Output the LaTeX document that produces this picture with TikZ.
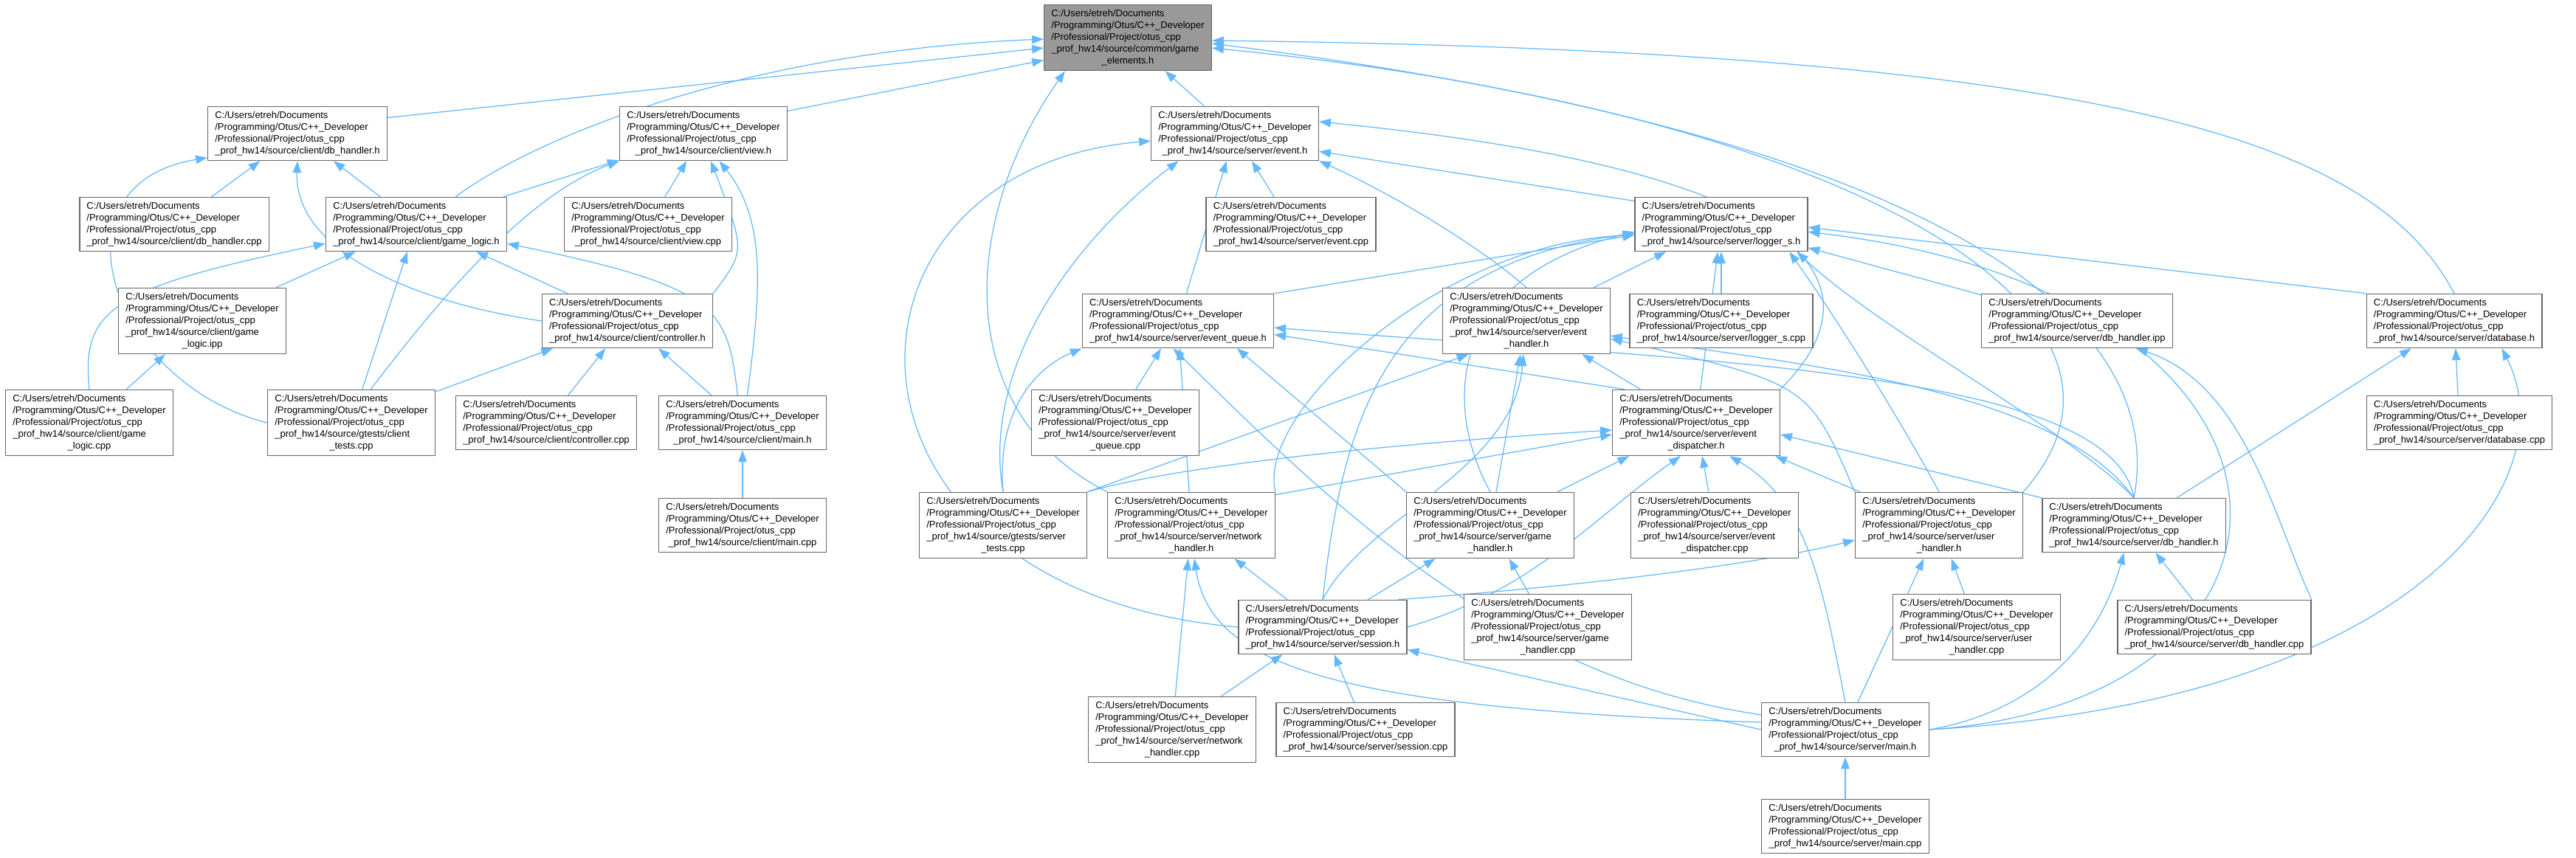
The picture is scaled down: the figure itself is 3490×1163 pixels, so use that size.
\documentclass[tikz,border=0pt]{standalone}
\usepackage{fontspec}
\setmainfont{Liberation Sans}
\usepackage{xcolor}
\usepackage{tikz}
\usetikzlibrary{arrows.meta, positioning}
\pgfdeclarelayer{edges}
\pgfsetlayers{edges,main}

\definecolor{edgeblue}{HTML}{63B8FF}
\definecolor{boxline}{HTML}{666666}
\definecolor{rootfill}{HTML}{999999}

% path label of one file: common prefix, optional middle line, centred last line
\newcommand{\fpath}[2]{\begin{tabular}{@{}l@{}}C:/Users/etreh/Documents\\/Programming/Otus/C++\_Developer\\/Professional/Project/otus\_cpp\\#1\multicolumn{1}{@{}c@{}}{#2}\end{tabular}}

\begin{document}
\begin{tikzpicture}[
    x=0.02cm, y=-0.02cm,
    file/.style={rectangle, draw=boxline, line width=0.8pt, fill=white, inner xsep=5.5pt, inner ysep=2.6pt, font=\fontsize{7.4}{9.1}\selectfont},
    dep/.style={-{Triangle[length=9pt,width=6.5pt]}, draw=edgeblue, line width=0.7pt}
]
\useasboundingbox (0,0) rectangle (3490,1163);

% Root header
\node[file, fill=rootfill] (root) at (1528,51) {\fpath{\_prof\_hw14/source/common/game\\}{\_elements.h}};

% Row 1
\node[file] (cdbh) at (403,181) {\fpath{}{\_prof\_hw14/source/client/db\_handler.h}};
\node[file] (cview) at (953,181) {\fpath{}{\_prof\_hw14/source/client/view.h}};
\node[file] (sevent) at (1673,181) {\fpath{}{\_prof\_hw14/source/server/event.h}};

% Row 2
\node[file] (cdbcpp) at (236,304) {\fpath{}{\_prof\_hw14/source/client/db\_handler.cpp}};
\node[file] (cgl) at (564,304) {\fpath{}{\_prof\_hw14/source/client/game\_logic.h}};
\node[file] (cviewcpp) at (878,304) {\fpath{}{\_prof\_hw14/source/client/view.cpp}};
\node[file] (seventcpp) at (1749,304) {\fpath{}{\_prof\_hw14/source/server/event.cpp}};
\node[file] (slog) at (2332,304) {\fpath{}{\_prof\_hw14/source/server/logger\_s.h}};

% Row 3
\node[file] (cglipp) at (274,435) {\fpath{\_prof\_hw14/source/client/game\\}{\_logic.ipp}};
\node[file] (cctrl) at (850,435) {\fpath{}{\_prof\_hw14/source/client/controller.h}};
\node[file] (seq) at (1596,435) {\fpath{}{\_prof\_hw14/source/server/event\_queue.h}};
\node[file] (seh) at (2068,435) {\fpath{\_prof\_hw14/source/server/event\\}{\_handler.h}};
\node[file] (slogcpp) at (2332,435) {\fpath{}{\_prof\_hw14/source/server/logger\_s.cpp}};
\node[file] (sdbipp) at (2814,435) {\fpath{}{\_prof\_hw14/source/server/db\_handler.ipp}};
\node[file] (sdb) at (3325,435) {\fpath{}{\_prof\_hw14/source/server/database.h}};

% Row 4
\node[file] (cglcpp) at (121,573) {\fpath{\_prof\_hw14/source/client/game\\}{\_logic.cpp}};
\node[file] (ctests) at (476,573) {\fpath{\_prof\_hw14/source/gtests/client\\}{\_tests.cpp}};
\node[file] (cctrlcpp) at (740,573) {\fpath{}{\_prof\_hw14/source/client/controller.cpp}};
\node[file] (cmainh) at (1006,573) {\fpath{}{\_prof\_hw14/source/client/main.h}};
\node[file] (seqcpp) at (1511,573) {\fpath{\_prof\_hw14/source/server/event\\}{\_queue.cpp}};
\node[file] (sdisp) at (2298,573) {\fpath{\_prof\_hw14/source/server/event\\}{\_dispatcher.h}};
\node[file] (sdbcpp) at (3332,573) {\fpath{}{\_prof\_hw14/source/server/database.cpp}};

% Row 5
\node[file] (cmaincpp) at (1006,712) {\fpath{}{\_prof\_hw14/source/client/main.cpp}};
\node[file] (stests) at (1359,712) {\fpath{\_prof\_hw14/source/gtests/server\\}{\_tests.cpp}};
\node[file] (snet) at (1614,712) {\fpath{\_prof\_hw14/source/server/network\\}{\_handler.h}};
\node[file] (sgame) at (2019,712) {\fpath{\_prof\_hw14/source/server/game\\}{\_handler.h}};
\node[file] (sdispcpp) at (2323,712) {\fpath{\_prof\_hw14/source/server/event\\}{\_dispatcher.cpp}};
\node[file] (suser) at (2627,712) {\fpath{\_prof\_hw14/source/server/user\\}{\_handler.h}};
\node[file] (sdbh) at (2891,712) {\fpath{}{\_prof\_hw14/source/server/db\_handler.h}};

% Row 6
\node[file] (ssess) at (1792,850) {\fpath{}{\_prof\_hw14/source/server/session.h}};
\node[file] (sgamecpp) at (2097,850) {\fpath{\_prof\_hw14/source/server/game\\}{\_handler.cpp}};
\node[file] (susercpp) at (2678,850) {\fpath{\_prof\_hw14/source/server/user\\}{\_handler.cpp}};
\node[file] (sdbhcpp) at (3000,850) {\fpath{}{\_prof\_hw14/source/server/db\_handler.cpp}};

% Row 7
\node[file] (snetcpp) at (1588,989) {\fpath{\_prof\_hw14/source/server/network\\}{\_handler.cpp}};
\node[file] (ssesscpp) at (1850,989) {\fpath{}{\_prof\_hw14/source/server/session.cpp}};
\node[file] (smainh) at (2500,989) {\fpath{}{\_prof\_hw14/source/server/main.h}};

% Row 8
\node[file] (smaincpp) at (2500,1120) {\fpath{}{\_prof\_hw14/source/server/main.cpp}};

\begin{pgfonlayer}{edges}
\fill[white] (0,0) rectangle (3490,1163);

% client includes
\draw[dep] (cdbh.10) -- (root.187);
\draw[dep] (cview.15) -- (root.195);
\draw[dep] (cgl.35) .. controls (720,190) and (1000,70) .. (root.181);
\draw[dep] (cdbcpp) -- (cdbh);
\draw[dep] (cgl) -- (cdbh);
\draw[dep] (ctests.west) .. controls (150,520) and (60,250) .. (cdbh.195);
\draw[dep] (cctrl.west) .. controls (560,410) and (398,340) .. (cdbh.south);
\draw[dep] (cgl) -- (cview);
\draw[dep] (cviewcpp) -- (cview);
\draw[dep] (ctests.60) .. controls (570,440) and (700,270) .. (cview.south west);
\draw[dep] (cctrl.north east) .. controls (1010,340) .. (cview.-75);
\draw[dep] (cmainh.80) .. controls (1030,400) and (1040,300) .. (cview.-60);
\draw[dep] (cglipp) -- (cgl);
\draw[dep] (cglcpp.north) .. controls (110,420) and (150,390) .. (cgl.192);
\draw[dep] (ctests) -- (cgl);
\draw[dep] (cctrl) -- (cgl);
\draw[dep] (cmainh.100) .. controls (985,420) and (980,390) .. (cgl.-12);
\draw[dep] (cglcpp) -- (cglipp);
\draw[dep] (ctests) -- (cctrl);
\draw[dep] (cctrlcpp) -- (cctrl);
\draw[dep] (cmainh) -- (cctrl);
\draw[dep] (cmaincpp) -- (cmainh);

% server includes of game_elements.h
\draw[dep] (sevent) -- (root);
\draw[dep] (snet.north west) .. controls (1290,560) and (1300,300) .. (root.-152);
\draw[dep] (sdb.north) .. controls (3220,200) and (2900,70) .. (root.-2);
\draw[dep] (sdbh.north) .. controls (2940,420) and (2600,180) .. (root.-4);
\draw[dep] (suser.north east) .. controls (2960,420) and (2500,150) .. (root.-7);

% event.h
\draw[dep] (seventcpp) -- (sevent);
\draw[dep] (slog.165) -- (sevent.-12);
\draw[dep] (seq) -- (sevent);
\draw[dep] (seh.north) .. controls (2000,330) and (1880,260) .. (sevent.-18);
\draw[dep] (sdisp.north east) .. controls (2560,380) and (2450,230) .. (sevent.8);
\draw[dep] (ssess.west) .. controls (1100,800) and (1100,230) .. (sevent.185);
\draw[dep] (stests.north) .. controls (1330,500) and (1450,330) .. (sevent.-154);

% logger_s.h
\draw[dep] (slogcpp) -- (slog);
\draw[dep] (seq.north east) -- (slog.187);
\draw[dep] (seh) -- (slog);
\draw[dep] (sdisp) -- (slog);
\draw[dep] (snet.north east) .. controls (1700,560) and (1950,330) .. (slog.187);
\draw[dep] (ssess.north) .. controls (1820,560) and (1880,360) .. (slog.186);
\draw[dep] (sgame.north) .. controls (1960,560) and (1950,380) .. (slog.185);
\draw[dep] (suser.north) .. controls (2570,560) and (2480,420) .. (slog.-22);
\draw[dep] (sdbh.north) .. controls (2800,580) and (2550,450) .. (slog.-20);
\draw[dep] (sdbipp) -- (slog);
\draw[dep] (sdb.north west) -- (slog.-2);
\draw[dep] (smainh.east) .. controls (3180,950) and (3180,400) .. (slog.-5);

% event_queue.h
\draw[dep] (seqcpp) -- (seq);
\draw[dep] (snet) -- (seq);
\draw[dep] (sgame.north west) -- (seq.-25);
\draw[dep] (stests.north) .. controls (1350,560) and (1400,500) .. (seq.south west);
\draw[dep] (sdisp.155) -- (seq.-8);
\draw[dep] (smainh.170) .. controls (2050,920) and (1820,700) .. (seq.-100);
\draw[dep] (sdbh.north) .. controls (2860,500) and (2300,490) .. (seq.-4);

% event_handler.h
\draw[dep] (stests.north east) -- (seh.-150);
\draw[dep] (sdisp) -- (seh);
\draw[dep] (ssess.north) .. controls (1850,700) and (2050,640) .. (seh.-95);
\draw[dep] (sgame) -- (seh);
\draw[dep] (suser.north west) .. controls (2450,520) .. (seh.-12);
\draw[dep] (sdbh.north) .. controls (2780,520) and (2400,490) .. (seh.-10);

% event_dispatcher.h
\draw[dep] (sdispcpp) -- (sdisp);
\draw[dep] (snet.20) -- (sdisp.188);
\draw[dep] (stests.north east) .. controls (1600,630) and (1900,600) .. (sdisp.185);
\draw[dep] (sgame) -- (sdisp);
\draw[dep] (ssess.east) .. controls (2080,800) and (2160,700) .. (sdisp.-115);
\draw[dep] (suser) -- (sdisp);
\draw[dep] (sdbh.north west) -- (sdisp.-8);
\draw[dep] (smainh.north) .. controls (2470,800) and (2450,680) .. (sdisp.-45);

% handlers and session
\draw[dep] (sgamecpp) -- (sgame);
\draw[dep] (ssess) -- (sgame);
\draw[dep] (susercpp) -- (suser);
\draw[dep] (ssess.20) .. controls (2200,790) and (2400,760) .. (suser.-170);
\draw[dep] (smainh) -- (suser);
\draw[dep] (snetcpp) -- (snet);
\draw[dep] (ssess) -- (snet);
\draw[dep] (smainh.175) .. controls (1800,960) and (1640,900) .. (snet.-85);
\draw[dep] (sdbcpp) -- (sdb);
\draw[dep] (sdbh) -- (sdb);
\draw[dep] (smainh.east) .. controls (3280,950) and (3480,650) .. (sdb.-30);
\draw[dep] (sdbhcpp) -- (sdbh);
\draw[dep] (smainh.east) .. controls (2780,960) and (2850,850) .. (sdbh.-110);
\draw[dep] (sdbhcpp.north east) .. controls (3080,700) and (3040,520) .. (sdbipp.-25);
\draw[dep] (ssesscpp) -- (ssess);
\draw[dep] (snetcpp) -- (ssess);
\draw[dep] (smainh.west) -- (ssess.-15);
\draw[dep] (smaincpp) -- (smainh);
\end{pgfonlayer}

\end{tikzpicture}
\end{document}
